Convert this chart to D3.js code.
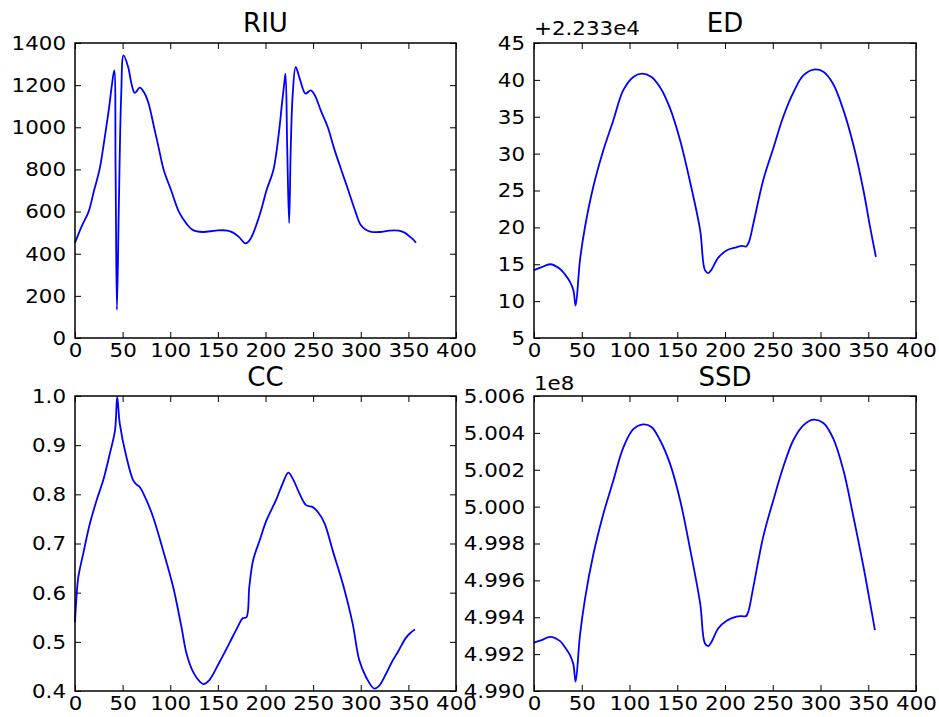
<!DOCTYPE html>
<html>
<head>
<meta charset="utf-8">
<script src="https://cdn.jsdelivr.net/npm/d3@7"></script>
<style>
    body { margin: 0; background: #fff; }
    svg { display: block; font-family: "DejaVu Sans", sans-serif; }
</style>
</head>
<body>
<svg id="chart" width="939" height="717"></svg>
<script>
// RIU series (angle in degrees -> value)
const riuAngle = [0, 7, 14.3, 20, 25.8, 29.5, 32.8, 36, 38.7, 41.2, 42.6, 44, 46, 48.5, 51, 55.8, 59.3, 62.8, 68, 72.3, 76.8, 83, 88, 93, 101, 109, 117, 124, 134, 148, 160, 166, 172, 179, 183, 187, 191, 195, 201, 208.4, 214.7, 217, 219.5, 221, 222.8, 224.8, 226.5, 228.5, 231.7, 236, 242, 247.5, 252, 258, 265.4, 272, 279.4, 287, 294.4, 300, 305, 310, 320, 330, 340, 346, 351, 355, 358];
const riuValue = [452, 530, 600, 700, 800, 900, 1000, 1100, 1200, 1270, 800, 133, 620, 1150, 1341, 1286, 1207, 1163, 1188, 1167, 1120, 1000, 900, 800, 700, 600, 543, 512, 503, 510, 510, 500, 480, 449, 462, 496, 545, 600, 700, 800, 1000, 1100, 1200, 1254, 900, 546, 900, 1150, 1286, 1230, 1160, 1175, 1150, 1080, 1000, 900, 800, 700, 600, 536, 515, 505, 503, 510, 510, 500, 483, 468, 452];

// ED series, plotted relative to an offset of 22330
const edOffset = 22330;
const edAngle = [0, 8, 17, 27, 32, 37.7, 41.2, 43.6, 48.1, 53.4, 62.1, 72.6, 83, 93.5, 104, 112.8, 123, 132, 142, 153, 163, 174, 179, 182.6, 186, 193, 202, 212, 218, 222, 225, 230, 240, 251, 261, 272, 282, 293, 303, 313, 324, 335, 345, 352, 358];
const edDelta = [14.2, 14.6, 15.0, 14.4, 13.7, 12.6, 11.5, 9.4, 15.5, 20.05, 25.5, 30.45, 34.5, 38.6, 40.4, 40.85, 40.4, 39.0, 36.3, 31.8, 26.4, 19.6, 14.2, 13.8, 14.3, 15.9, 16.9, 17.3, 17.5, 17.4, 18.0, 20.7, 26.4, 30.9, 35.0, 38.4, 40.6, 41.4, 41.1, 39.5, 35.9, 30.9, 25.0, 20.0, 16.0];

// CC series
const ccAngle = [0, 1.5, 3.5, 8.7, 15.7, 22.7, 29.7, 36.6, 42, 44.3, 47, 54, 61, 64.6, 68, 75, 82, 92.5, 103, 111.7, 117, 124, 131, 135, 141, 152, 162, 171, 176, 180, 183, 187, 194, 201, 211, 218, 224, 228.6, 235.6, 242.6, 249.6, 255, 262, 270.5, 281, 291.5, 298.4, 305.4, 314, 319, 326, 333, 340, 347, 352, 357];
const ccValue = [0.54, 0.59, 0.632, 0.68, 0.741, 0.788, 0.829, 0.883, 0.93, 0.998, 0.944, 0.876, 0.829, 0.82, 0.815, 0.788, 0.754, 0.686, 0.612, 0.531, 0.477, 0.439, 0.419, 0.414, 0.422, 0.46, 0.497, 0.531, 0.548, 0.55, 0.612, 0.666, 0.707, 0.747, 0.788, 0.822, 0.844, 0.832, 0.802, 0.778, 0.774, 0.764, 0.741, 0.686, 0.619, 0.537, 0.463, 0.429, 0.405, 0.41, 0.433, 0.46, 0.483, 0.507, 0.518, 0.525];

// SSD series, in units of 1e8
const ssdAngle = [0, 8, 17, 27, 32, 37.7, 41.2, 43.6, 48.1, 53.4, 62.1, 72.6, 83, 93.5, 104, 114.5, 123, 132, 142.4, 153, 163, 174, 179, 182.6, 186, 193, 201.7, 212, 217.5, 222, 224.4, 229.7, 240, 250.6, 261, 271.5, 282, 292.5, 303, 313.4, 324, 334.5, 345, 352, 357];
const ssdValue = [4.99262, 4.99276, 4.99294, 4.99272, 4.99240, 4.99195, 4.99145, 4.99051, 4.99300, 4.99500, 4.99740, 4.99960, 5.00140, 5.00320, 5.00420, 5.00446, 5.00432, 5.00360, 5.00233, 5.00035, 4.99782, 4.99475, 4.99258, 4.99244, 4.99267, 4.99340, 4.99381, 4.99403, 4.99406, 4.99406, 4.99430, 4.99565, 4.99836, 5.00035, 5.00215, 5.00360, 5.00441, 5.00472, 5.00454, 5.00369, 5.00197, 4.99944, 4.99674, 4.99475, 4.99330];

// axis ticks
const xTicks = [0, 50, 100, 150, 200, 250, 300, 350, 400];
const riuTicks = [0, 200, 400, 600, 800, 1000, 1200, 1400];
const edTicks = [5, 10, 15, 20, 25, 30, 35, 40, 45];
const ccTicks = [0.4, 0.5, 0.6, 0.7, 0.8, 0.9, 1.0];
const ssdTicks = [4.990, 4.992, 4.994, 4.996, 4.998, 5.000, 5.002, 5.004, 5.006];

const svg = d3.select("#chart");
const stretch = 1.07; // tick labels look slightly wide in the reference

function drawPanel(p) {
    var w = p.w, h = p.h;
    var g = svg.append("g").attr("transform", "translate(" + p.left + "," + p.top + ")");

    var x = d3.scaleLinear().domain([0, 400]).range([0, w]);
    var y = d3.scaleLinear().domain(p.yDomain).range([h, 0]);

    // bottom axis with labels, ticks inward
    var bottom = g.append("g")
        .attr("transform", "translate(0," + h + ")")
        .call(d3.axisBottom(x).tickValues(xTicks).tickSize(-6).tickSizeOuter(0).tickPadding(5).tickFormat(d3.format("d")));
    var left = g.append("g")
        .call(d3.axisLeft(y).tickValues(p.yTicks).tickSize(-6).tickSizeOuter(0).tickPadding(9).tickFormat(p.yFormat));
    // top and right: ticks only
    g.append("g")
        .call(d3.axisTop(x).tickValues(xTicks).tickSize(-6).tickSizeOuter(0).tickFormat(""));
    g.append("g")
        .attr("transform", "translate(" + w + ",0)")
        .call(d3.axisRight(y).tickValues(p.yTicks).tickSize(-6).tickSizeOuter(0).tickFormat(""));

    g.selectAll(".domain").remove();
    g.selectAll(".tick line").attr("stroke", "#000").attr("stroke-width", 1);
    g.selectAll(".tick text")
        .attr("fill", "#000")
        .style("font-size", "20px")
        .style("font-family", "DejaVu Sans, sans-serif");
    bottom.selectAll(".tick text").attr("transform", "scale(" + stretch + ",1)");
    left.selectAll(".tick text")
        .attr("x", -9 / stretch)
        .attr("transform", "scale(" + stretch + ",1)");

    // smooth line through the read points
    var line = d3.line()
        .x(function (d) { return x(d[0]); })
        .y(function (d) { return y(d[1]); })
        .curve(d3.curveCatmullRom.alpha(0.5));

    g.append("path")
        .datum(d3.zip(p.xs, p.ys))
        .attr("fill", "none")
        .attr("stroke", "#0000ff")
        .attr("stroke-width", 1.8)
        .attr("d", line);

    // frame
    g.append("rect")
        .attr("width", w)
        .attr("height", h)
        .attr("fill", "none")
        .attr("stroke", "#000")
        .attr("stroke-width", 1.5);

    // title
    g.append("text")
        .attr("x", w / 2)
        .attr("y", p.titleY)
        .attr("text-anchor", "middle")
        .style("font-size", "26px")
        .text(p.title);

    // offset / multiplier text at top left
    if (p.offsetText) {
        g.append("text")
            .attr("x", 0)
            .attr("y", p.offsetY)
            .attr("transform", "scale(" + stretch + ",1)")
            .style("font-size", "20px")
            .text(p.offsetText);
    }
}

drawPanel({
    left: 75, top: 43, w: 381, h: 295,
    xs: riuAngle, ys: riuValue,
    yDomain: [0, 1400], yTicks: riuTicks, yFormat: d3.format("d"),
    title: "RIU", titleY: -11
});

drawPanel({
    left: 534, top: 43, w: 382, h: 295,
    xs: edAngle, ys: edDelta.map(function (d) { return d + edOffset; }),
    yDomain: [edOffset + 5, edOffset + 45],
    yTicks: edTicks.map(function (d) { return d + edOffset; }),
    yFormat: function (d) { return Math.round(d - edOffset); },
    title: "ED", titleY: -11,
    offsetText: "+2.233e4", offsetY: -8
});

drawPanel({
    left: 75, top: 396, w: 381, h: 295,
    xs: ccAngle, ys: ccValue,
    yDomain: [0.4, 1.0], yTicks: ccTicks, yFormat: d3.format(".1f"),
    title: "CC", titleY: -10
});

drawPanel({
    left: 534, top: 396, w: 382, h: 295,
    xs: ssdAngle, ys: ssdValue,
    yDomain: [4.990, 5.006], yTicks: ssdTicks, yFormat: d3.format(".3f"),
    title: "SSD", titleY: -10,
    offsetText: "1e8", offsetY: -6
});
</script>
</body>
</html>
